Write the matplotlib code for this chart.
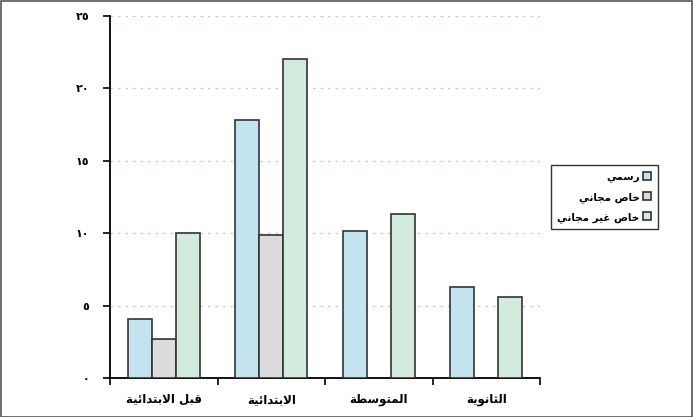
import matplotlib
matplotlib.use("Agg")
import matplotlib.pyplot as plt
from matplotlib.patches import Rectangle
import numpy as np

# data
categories = ["قبل الابتدائية", "الابتدائية", "المتوسطة", "الثانوية"]
series_names = ["رسمي", "خاص مجاني", "خاص غير مجاني"]
rasmi = [4.1, 17.8, 10.15, 6.3]
khas_majani = [2.7, 9.9, None, None]
khas_ghair = [10.0, 22.0, 11.3, 5.6]
yticks = [0, 5, 10, 15, 20, 25]
ytick_labels = ["٠", "٥", "١٠", "١٥", "٢٠", "٢٥"]

# simple arabic shaping: (isolated, final, initial, medial)
FORMS = {
    "ا": (0xFE8D, 0xFE8E, None, None),
    "ب": (0xFE8F, 0xFE90, 0xFE91, 0xFE92),
    "ة": (0xFE93, 0xFE94, None, None),
    "ت": (0xFE95, 0xFE96, 0xFE97, 0xFE98),
    "ث": (0xFE99, 0xFE9A, 0xFE9B, 0xFE9C),
    "ج": (0xFE9D, 0xFE9E, 0xFE9F, 0xFEA0),
    "خ": (0xFEA5, 0xFEA6, 0xFEA7, 0xFEA8),
    "د": (0xFEA9, 0xFEAA, None, None),
    "ر": (0xFEAD, 0xFEAE, None, None),
    "س": (0xFEB1, 0xFEB2, 0xFEB3, 0xFEB4),
    "ص": (0xFEB9, 0xFEBA, 0xFEBB, 0xFEBC),
    "ط": (0xFEC1, 0xFEC2, 0xFEC3, 0xFEC4),
    "غ": (0xFECD, 0xFECE, 0xFECF, 0xFED0),
    "ق": (0xFED5, 0xFED6, 0xFED7, 0xFED8),
    "ل": (0xFEDD, 0xFEDE, 0xFEDF, 0xFEE0),
    "م": (0xFEE1, 0xFEE2, 0xFEE3, 0xFEE4),
    "ن": (0xFEE5, 0xFEE6, 0xFEE7, 0xFEE8),
    "و": (0xFEED, 0xFEEE, None, None),
    "ي": (0xFEF1, 0xFEF2, 0xFEF3, 0xFEF4),
    "ئ": (0xFE89, 0xFE8A, 0xFE8B, 0xFE8C),
    "لا": (0xFEFB, 0xFEFC, None, None),
}


def shape_word(word):
    # merge lam-alef
    units = []
    i = 0
    while i < len(word):
        if word[i] == "ل" and i + 1 < len(word) and word[i + 1] == "ا":
            units.append("لا")
            i += 2
        else:
            units.append(word[i])
            i += 1
    out = []
    for j, u in enumerate(units):
        f = FORMS[u]
        prev_joins = j > 0 and FORMS[units[j - 1]][2] is not None
        next_exists = j + 1 < len(units)
        can_join_next = f[2] is not None and next_exists
        if prev_joins and can_join_next:
            c = f[3]
        elif prev_joins:
            c = f[1]
        elif can_join_next:
            c = f[2]
        else:
            c = f[0]
        out.append(chr(c))
    return "".join(reversed(out))


def ar(text):
    return " ".join(shape_word(w) for w in reversed(text.split(" ")))


plt.rcParams["font.family"] = ["DejaVu Sans"]

fig = plt.figure(figsize=(6.93, 4.17), dpi=100)
ax = fig.add_axes([110 / 693, 1 - 378 / 417, 430 / 693, 362 / 417])

x = np.arange(len(categories))
w = 0.224
colors = ["#c3e4ee", "#dcdcdc", "#d2ebdc"]
all_series = [rasmi, khas_majani, khas_ghair]
for k, (vals, name, col) in enumerate(zip(all_series, series_names, colors)):
    xs = [xi + (k - 1) * w for xi, v in zip(x, vals) if v is not None]
    vs = [v for v in vals if v is not None]
    ax.bar(xs, vs, width=w, color=col, edgecolor="#333333", linewidth=1.2,
           label=ar(name), zorder=3)

ax.set_xlim(-0.5, len(categories) - 0.5)
ax.set_ylim(0, 25)
ax.set_yticks(yticks)
ax.set_yticklabels(ytick_labels, fontsize=8, fontweight="bold")
ax.set_xticks(np.arange(-0.5, len(categories), 1.0))
ax.set_xticklabels([])
ax.set_xticks(x, minor=True)
ax.set_xticklabels([ar(c) for c in categories], minor=True, fontsize=8.5, fontweight="bold")
ax.tick_params(axis="x", which="minor", length=0, pad=11)
ax.tick_params(axis="x", which="major", length=5, width=1.2, direction="out")
ax.tick_params(axis="y", length=5, width=1.2, direction="out", pad=10)

ax.spines["top"].set_visible(False)
ax.spines["right"].set_visible(False)
ax.spines["left"].set_linewidth(1.3)
ax.spines["bottom"].set_linewidth(1.3)
ax.yaxis.grid(True, linestyle=(0, (2, 4)), color="#a9d9cf", linewidth=0.9, zorder=0)

leg = fig.legend(loc="upper left", bbox_to_anchor=(546 / 693, 1 - 160 / 417),
                 markerfirst=False, handlelength=0.8, handleheight=0.8,
                 handletextpad=0.3, borderpad=0.6, labelspacing=0.9,
                 fancybox=False, edgecolor="#333333", framealpha=1,
                 prop={"weight": "bold", "size": 7.5})
leg.get_frame().set_linewidth(1.0)

fig.add_artist(Rectangle((0.001, 0.001), 0.997, 0.996, transform=fig.transFigure,
                         fill=False, edgecolor="#555555", linewidth=1.2))

fig.savefig("out.png", dpi=100)
